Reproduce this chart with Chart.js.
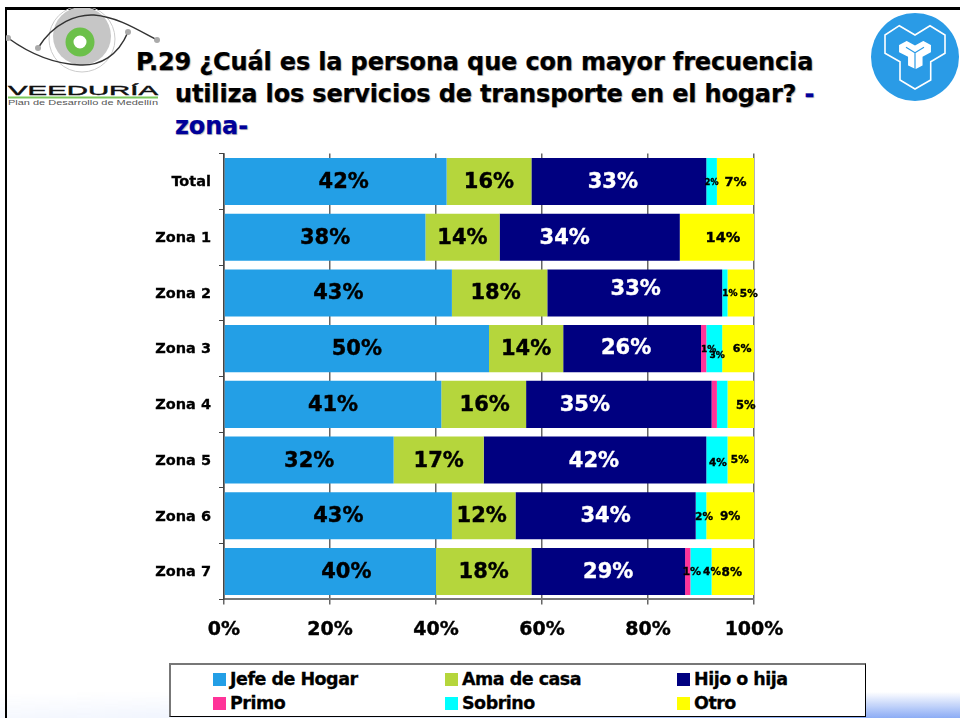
<!DOCTYPE html>
<html lang="es">
<head>
<meta charset="utf-8">
<title>P.29</title>
<script src="https://cdn.jsdelivr.net/npm/chart.js@4"></script>
<style>
  html, body { margin: 0; padding: 0; background: #fff; }
  body { width: 960px; height: 718px; position: relative; overflow: hidden; font-family: "DejaVu Sans", sans-serif; font-weight: bold; }
  #bottomFade { position: absolute; left: 0; right: 0; top: 692px; height: 26px;
    background: linear-gradient(to bottom, rgba(140,172,245,0), #8cacf5);
    -webkit-mask-image: linear-gradient(to right, rgba(0,0,0,.08), rgba(0,0,0,.2) 45%, #000 85%);
    mask-image: linear-gradient(to right, rgba(0,0,0,.08), rgba(0,0,0,.2) 45%, #000 85%); }
  #frameTop { position: absolute; left: 5px; right: 0; top: 7px; height: 3px; background: #000; }
  #frameLeft { position: absolute; left: 5px; top: 7px; bottom: 0; width: 2px; background: #000; }
  #chartWrap { position: absolute; left: 0; top: 0; width: 960px; height: 718px; }
  .titleLine { position: absolute; white-space: nowrap; font-size: 24px; line-height: 30px; color: #000;
    text-shadow: 1px 1px 1px #bbb; letter-spacing: -0.15px; -webkit-text-stroke: .25px currentColor; }
  .navy { color: #000099; }
  #logoEye { position: absolute; left: 6px; top: 8px; }
  #logoRight { position: absolute; left: 871px; top: 13px; }
  #legendBox { position: absolute; left: 169px; top: 663px; width: 694px; height: 51px; background: #fff;
    border: 1px solid #000; border-top: 2px solid #777; border-left: 2px solid #777; }
  .legendItem { position: absolute; font-size: 17.5px; line-height: 24px; color: #000; white-space: nowrap;
    letter-spacing: -0.5px; -webkit-text-stroke: .3px #000; }
  .legendItem i { position: absolute; left: -17px; top: 6px; width: 13px; height: 13px; }
</style>
</head>
<body>
<div id="bottomFade"></div>
<div id="frameTop"></div>
<div id="frameLeft"></div>

<svg id="logoEye" width="156" height="102" viewBox="0 0 156 102">
  <circle cx="76" cy="31" r="33" fill="none" stroke="#ccc"/>
  <circle cx="76" cy="28" r="29" fill="#c6c6c6"/>
  <path d="M2 30 C24 46 50 56 74 57 C94 58 112 48 122 24" fill="none" stroke="#333" stroke-width="1.5"/>
  <path d="M32 40 C48 14 72 6 88 7 C112 9 132 22 151 32" fill="none" stroke="#333" stroke-width="1.5"/>
  <circle cx="32" cy="40" r="3" fill="#aaa"/>
  <circle cx="122" cy="24" r="3" fill="#aaa"/>
  <circle cx="151" cy="32" r="3" fill="#aaa"/>
  <circle cx="2" cy="30" r="3" fill="#aaa"/>
  <circle cx="74" cy="34" r="10.5" fill="#fff" stroke="#6cc04a" stroke-width="8"/>
  <text x="2" y="87" font-family="Liberation Sans" font-size="13.5" font-weight="normal" textLength="150" lengthAdjust="spacingAndGlyphs" stroke="#111" stroke-width=".4" fill="#111">VEEDURÍA</text>
  <rect x="2" y="88.5" width="150" height="2" fill="#7ac75a"/>
  <text x="2" y="97" font-family="Liberation Sans" font-size="8" font-weight="normal" textLength="150" lengthAdjust="spacingAndGlyphs" fill="#555">Plan de Desarrollo de Medellín</text>
</svg>

<svg id="logoRight" width="88" height="88" viewBox="0 0 88 88">
  <circle cx="44" cy="44" r="44" fill="#2a9be6"/>
  <path d="M44 22 L28.3 12.7 L14 22 L14 40.3 L29 48.7 L29 67 L44 76 L59.7 67 L59.7 48.7 L74 40.3 L74 22 L59 12.7 Z" fill="none" stroke="#fff" stroke-width="1.6"/>
  <path d="M27.3 31.7 L35.7 27 L44 31.7 L52.3 27 L60.7 31.7 L60.7 39.7 L52.3 44.3 L52.3 53 L44.7 57 L36.3 53 L36.3 44.3 L27.3 39.7 Z" fill="#fff" stroke="#2a9be6" stroke-width="1.5"/>
  <path d="M44 39.7 L44 56 M44 39.7 L35 34.3 M44 39.7 L53 34.3" fill="none" stroke="#2a9be6" stroke-width="1.2"/>
</svg>

<div class="titleLine" style="left:136px;top:47px">P.29 ¿Cuál es la persona que con mayor frecuencia</div>
<div class="titleLine" style="left:175px;top:79px">utiliza los servicios de transporte en el hogar? <span class="navy">-</span></div>
<div class="titleLine navy" style="left:175px;top:111px">zona-</div>

<div id="chartWrap"><canvas id="myChart" width="960" height="718"></canvas></div>
<div id="legendBox"></div>

<script>
const categories = ["Total", "Zona 1", "Zona 2", "Zona 3", "Zona 4", "Zona 5", "Zona 6", "Zona 7"];
const jefeDeHogar = [42, 38, 43, 50, 41, 32, 43, 40];
const amaDeCasa = [16, 14, 18, 14, 16, 17, 12, 18];
const hijoOHija = [33, 34, 33, 26, 35, 42, 34, 29];
const primo = [0, 0, 0, 1, 1, 0, 0, 1];
const sobrino = [2, 0, 1, 3, 2, 4, 2, 4];
const otro = [7, 14, 5, 6, 5, 5, 9, 8];
const xTicks = [0, 20, 40, 60, 80, 100];

const seriesNames = ["Jefe de Hogar", "Ama de casa", "Hijo o hija", "Primo", "Sobrino", "Otro"];
const seriesValues = [jefeDeHogar, amaDeCasa, hijoOHija, primo, sobrino, otro];
const seriesColors = ["#239fe6", "#b5d63c", "#000080", "#ff3399", "#00ffff", "#ffff00"];
const labelColors = ["#000", "#000", "#fff", "#000", "#000", "#000"];

// label tweaks, same rows as categories, one column per series: [dx, dy, font px]
// the original slide has these labels nudged by hand
const labelTweaks = [
  [[8, 0, 21], [0, 0, 21], [-6, 0, 21], null, [0, 0, 8], [0, 0, 13]],
  [[0, 0, 21], [0, 0, 21], [-25, 0, 21], null, null, [6, 0, 14.5]],
  [[0, 0, 21], [-4, 0, 21], [1, -4, 21], null, [5, 0, 9], [8, 0, 10.5]],
  [[0, 0, 21], [0, 0, 21], [-6, -1.5, 21], [5, 0, 9], [3, 6.5, 9], [4, 0, 11]],
  [[0, 0, 21], [1, 0, 21], [-34, 0, 21], null, null, [5, 1, 11.5]],
  [[0, 0, 21], [0, 0, 21], [-1, 0, 21], null, [1, 2, 10.5], [-1, -1, 10.5]],
  [[0, 0, 21], [-2, 0, 21], [0, 0, 21], null, [3, 0, 10.5], [0, 0, 12]],
  [[16, 0, 21], [0, 0, 21], [0, 0, 21], [4, 0, 11], [11, 0, 10.5], [-1, 0, 12]]
];

// Chart.js has no value labels of its own
const barLabels = {
  id: "barLabels",
  afterDatasetsDraw(chart) {
    const ctx = chart.ctx;
    ctx.save();
    ctx.textAlign = "center";
    ctx.textBaseline = "middle";
    ctx.lineWidth = 0.4;
    chart.data.datasets.forEach((ds, s) => {
      chart.getDatasetMeta(s).data.forEach((bar, i) => {
        const tw = labelTweaks[i][s];
        if (!tw) return;
        const c = bar.getCenterPoint();
        const text = ds.data[i] + "%";
        ctx.font = "bold " + tw[2] + 'px "DejaVu Sans"';
        ctx.fillStyle = labelColors[s];
        ctx.strokeStyle = labelColors[s];
        // middle baseline sits a bit high with this font
        ctx.fillText(text, c.x + tw[0], c.y + tw[1] + 1);
        ctx.strokeText(text, c.x + tw[0], c.y + tw[1] + 1);
      });
    });
    ctx.restore();
  }
};

new Chart(document.getElementById("myChart").getContext("2d"), {
  type: "bar",
  data: {
    labels: categories,
    datasets: seriesNames.map((name, s) => ({
      label: name,
      data: seriesValues[s],
      backgroundColor: seriesColors[s],
      borderWidth: 0,
      categoryPercentage: 0.844,
      barPercentage: 1
    }))
  },
  options: {
    indexAxis: "y",
    responsive: false,
    animation: false,
    layout: { padding: { left: 0, right: 206, top: 153.6, bottom: 0 } },
    plugins: { legend: { display: false }, title: { display: false }, tooltip: { enabled: false } },
    scales: {
      x: {
        stacked: true,
        min: 0,
        max: 100,
        afterBuildTicks: (axis) => { axis.ticks = xTicks.map((v) => ({ value: v })); },
        afterFit: (axis) => { axis.height = 118.6; },
        grid: { color: "#666", lineWidth: 1.5, tickLength: 5, drawTicks: true },
        border: { color: "#777", width: 2 },
        ticks: {
          color: "#000",
          padding: 14,
          maxRotation: 0,
          textStrokeColor: "#000",
          textStrokeWidth: 0.4,
          font: { family: "DejaVu Sans", weight: "bold", size: 19 },
          callback: (v) => v + "%"
        }
      },
      y: {
        stacked: true,
        afterFit: (axis) => { axis.width = 224; },
        grid: { offset: true, drawOnChartArea: false, color: "#444", tickLength: 5 },
        border: { color: "#444", width: 1.5 },
        ticks: {
          color: "#000",
          padding: 8,
          labelOffset: 1,
          autoSkip: false,
          textStrokeColor: "#000",
          textStrokeWidth: 0.3,
          font: { family: "DejaVu Sans", weight: "bold", size: 14.5 }
        }
      }
    }
  },
  plugins: [barLabels]
});

// legend is the boxed 3 x 2 grid of the slide
const legendBox = document.getElementById("legendBox");
const legendCols = [59, 291, 523];
seriesNames.forEach((name, s) => {
  const item = document.createElement("div");
  item.className = "legendItem";
  item.style.left = legendCols[s % 3] + "px";
  item.style.top = (s < 3 ? 2 : 26) + "px";
  item.innerHTML = '<i style="background:' + seriesColors[s] + '"></i>' + name;
  legendBox.appendChild(item);
});
</script>
</body>
</html>
